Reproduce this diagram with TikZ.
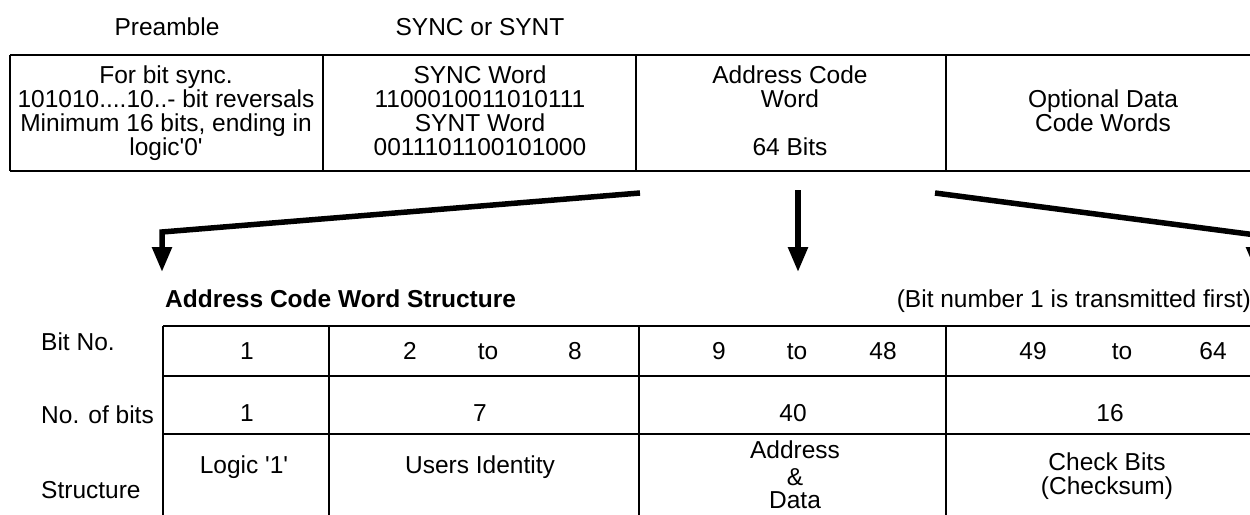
\documentclass[tikz,border=0pt]{standalone}
\usepackage{fontspec}
\setmainfont{Liberation Sans}[Ligatures=TeXOff]
\usetikzlibrary{arrows.meta}
\begin{document}
\begin{tikzpicture}[x=1pt,y=-1pt,
  txt/.style={font=\fontsize{24.5}{24}\selectfont, inner sep=0pt, anchor=base},
  lbl/.style={txt, anchor=base west},
  rule/.style={line width=2pt},
  bigarrow/.style={line width=5.5pt, line join=miter, -{Triangle[length=25pt,width=19pt]}},
]
\useasboundingbox (0,0) rectangle (1250,514);
\clip (0,0) rectangle (1250,514);

% ---------- header labels ----------
\node[txt] (hpre) at (167,35) {Preamble};
\node[txt] (hsync) at (480,35) {SYNC or SYNT};

% ---------- top table ----------
\draw[rule] (10,55) -- (1254,55);
\draw[rule] (10,171) -- (1254,171);
\foreach \x in {10,323,636,946} \draw[rule] (\x,55) -- (\x,171);

\node[txt] (p1) at (166,83) {For bit sync.};
\node[txt] (p2) at (166,107) {101010....10..- bit reversals};
\node[txt] (p3) at (166,131) {Minimum 16 bits, ending in};
\node[txt] (p4) at (166,155) {logic'0'};

\node[txt] (s1) at (480,83) {SYNC Word};
\node[txt] (s2) at (480,107) {1100010011010111};
\node[txt] (s3) at (480,131) {SYNT Word};
\node[txt] (s4) at (480,155) {0011101100101000};

\node[txt] (a1) at (790,83) {Address Code};
\node[txt] (a2) at (790,107) {Word};
\node[txt] (a3) at (790,155) {64 Bits};

\node[txt] (o1) at (1103,107) {Optional Data};
\node[txt] (o2) at (1103,131) {Code Words};

% ---------- arrows ----------
\coordinate (l0) at (640,193);
\coordinate (l1) at (162,232);
\coordinate (l2) at (162,272);
\coordinate (m0) at (798,190);
\coordinate (m1) at (798,272);
\coordinate (r0) at (935,193);
\coordinate (r1) at (1256,235);
\coordinate (r2) at (1256,272);
\draw[bigarrow] (l0) -- (l1) -- (l2);
\draw[bigarrow] (m0) -- (m1);
\draw[bigarrow] (r0) -- (r1) -- (r2);

% ---------- lower table ----------
\node[txt, anchor=base west, font=\fontsize{24.5}{24}\selectfont\bfseries] (title) at (165,307) {Address Code Word Structure};
\node[txt, anchor=base east] (note) at (1251,307) {(Bit number 1 is transmitted first)};

\draw[rule] (163,326) -- (1254,326);
\draw[rule] (163,376) -- (1254,376);
\draw[rule] (163,434) -- (1254,434);
\foreach \x in {163,329,639,946} \draw[rule] (\x,326) -- (\x,518);

\node[lbl] (lb1) at (41,350) {Bit No.};
\node[lbl] (lb2) at (41,423) {No. of bits};
\node[lbl] (lb3) at (41,498) {Structure};

% row 1
\node[txt] (b1) at (247,359) {1};
\node[txt] (b2a) at (410,359) {2};
\node[txt] (b2b) at (488,359) {to};
\node[txt] (b2c) at (575,359) {8};
\node[txt] (b3a) at (719,359) {9};
\node[txt] (b3b) at (797,359) {to};
\node[txt] (b3c) at (883,359) {48};
\node[txt] (b4a) at (1033,359) {49};
\node[txt] (b4b) at (1122,359) {to};
\node[txt] (b4c) at (1213,359) {64};

% row 2
\node[txt] (n1) at (247,421) {1};
\node[txt] (n2) at (480,421) {7};
\node[txt] (n3) at (793,421) {40};
\node[txt] (n4) at (1110,421) {16};

% row 3
\node[txt] (t1) at (244,473) {Logic '1'};
\node[txt] (t2) at (480,473) {Users Identity};
\node[txt] (t3a) at (795,458) {Address};
\node[txt] (t3b) at (795,485) {\&};
\node[txt] (t3c) at (795,508) {Data};
\node[txt] (t4a) at (1107,470) {Check Bits};
\node[txt] (t4b) at (1107,494) {(Checksum)};
\end{tikzpicture}
\end{document}
